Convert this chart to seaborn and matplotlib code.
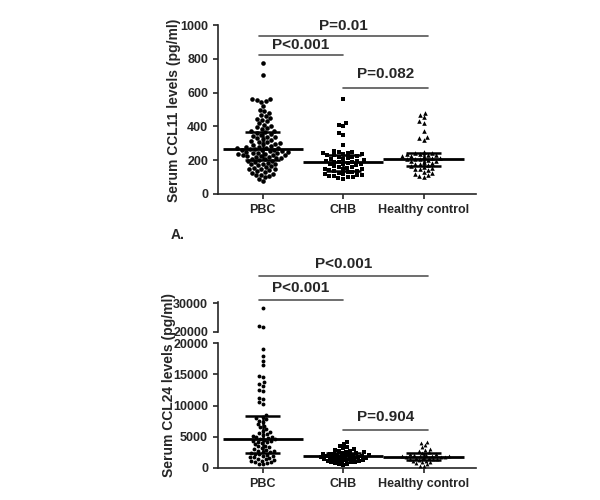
import numpy as np
import pandas as pd
import matplotlib
matplotlib.use("Agg")
import matplotlib.pyplot as plt
import seaborn as sns

sns.set_style("ticks")
plt.rcParams['font.family'] = ['Liberation Sans', 'DejaVu Sans']
plt.rcParams['font.weight'] = 'bold'

groups = ["PBC", "CHB", "Healthy control"]
markers = ["o", "s", "^"]

# CCL11 (pg/ml)
ccl11_pbc = [775, 705, 565, 560, 555, 550, 545, 520, 500, 490, 480, 470, 460, 450, 445, 440,
             430, 420, 410, 400, 395, 390, 385, 375, 370, 365, 360, 355, 350, 345, 340, 335,
             330, 325, 320, 315, 310, 305, 300, 298, 295, 290, 285, 280, 278, 275, 272, 270,
             268, 265, 262, 260, 258, 255, 252, 250, 248, 245, 242, 240, 238, 235, 232, 230,
             228, 225, 222, 220, 218, 215, 212, 210, 205, 200, 198, 195, 190, 185, 180, 178,
             175, 170, 165, 160, 155, 150, 148, 145, 140, 135, 130, 125, 120, 115, 110, 105,
             100, 90, 75]
ccl11_chb = [565, 420, 410, 400, 360, 350, 290, 255, 250, 248, 245, 240, 238, 235, 230, 228,
             225, 220, 218, 215, 210, 205, 200, 198, 195, 192, 190, 188, 185, 180, 178, 175,
             170, 165, 160, 158, 155, 150, 148, 145, 140, 138, 135, 130, 128, 125, 120, 118,
             115, 110, 108, 105, 100, 98, 95, 90]
ccl11_hc = [480, 470, 455, 430, 420, 375, 340, 330, 320, 250, 245, 240, 238, 235, 230, 228,
            225, 222, 220, 215, 212, 210, 208, 205, 200, 198, 195, 190, 185, 180, 175, 170,
            165, 160, 155, 150, 145, 140, 130, 125, 120, 110, 105, 100]

# CCL24 (pg/ml)
ccl24_pbc = [28500, 22000, 21800, 19000, 18000, 17200, 16500, 14800, 14500, 13800, 13500,
             13200, 12500, 12300, 11200, 11000, 10500, 10300, 8500, 8200, 8000, 7800, 7600,
             7400, 7000, 6800, 6500, 6300, 6000, 5800, 5600, 5500, 5300, 5100, 5000, 4900,
             4800, 4700, 4600, 4500, 4400, 4300, 4200, 4100, 4000, 3800, 3600, 3500, 3400,
             3200, 3000, 2900, 2800, 2700, 2600, 2500, 2400, 2300, 2200, 2100, 2000, 1900,
             1800, 1700, 1600, 1500, 1400, 1300, 1200, 1100, 1000, 900, 800, 700, 600]
ccl24_chb = [4200, 3900, 3600, 3400, 3200, 3000, 2900, 2800, 2700, 2600, 2500, 2450, 2400,
             2300, 2250, 2200, 2150, 2100, 2050, 2000, 1950, 1900, 1850, 1800, 1750, 1700,
             1650, 1600, 1550, 1500, 1450, 1400, 1350, 1300, 1250, 1200, 1150, 1100, 1000,
             950, 900, 800, 700, 600, 500]
ccl24_hc = [4200, 4000, 3700, 3300, 3100, 2900, 2700, 2500, 2400, 2300, 2200, 2100, 2050,
            2000, 1950, 1900, 1850, 1800, 1750, 1700, 1650, 1600, 1550, 1500, 1450, 1400,
            1300, 1200, 1100, 1000, 900, 800, 600, 400, 300]


def swarm(ax, series, size):
    for g, vals, m in zip(groups, series, markers):
        df = pd.DataFrame({"group": g, "val": vals})
        sns.swarmplot(data=df, x="group", y="val", order=groups, marker=m,
                      color="black", size=size, ax=ax, warn_thresh=1)


def bars(ax, series):
    for i, vals in enumerate(series):
        q1, med, q3 = np.percentile(vals, [25, 50, 75])
        ax.hlines(med, i - 0.5, i + 0.5, color="black", lw=2, zorder=5)
        ax.hlines([q1, q3], i - 0.22, i + 0.22, color="black", lw=1.8, zorder=5)
        ax.vlines(i, q1, q3, color="black", lw=1.8, zorder=5)


def sig(ax, x0, x1, y, dy, text):
    ax.plot([x0, x1], [y, y], color="#555555", lw=1.2, clip_on=False)
    ax.text((x0 + x1) / 2, y + dy, text, ha="center", va="bottom", fontsize=11,
            fontweight="bold", clip_on=False)


fig = plt.figure(figsize=(6, 5), dpi=100)
xl = (-0.56, 2.65)

# Panel A
ax1 = fig.add_axes([0.363, 0.612, 0.43, 0.338])
swarm(ax1, [ccl11_pbc, ccl11_chb, ccl11_hc], 3.3)
bars(ax1, [ccl11_pbc, ccl11_chb, ccl11_hc])
ax1.set_xlim(xl)
ax1.set_ylim(0, 1000)
ax1.set_yticks([0, 200, 400, 600, 800, 1000])
ax1.set_xlabel("")
ax1.set_ylabel("")
fig.text(0.29, 0.78, "Serum CCL11 levels (pg/ml)", rotation=90, ha="center", va="center",
         fontsize=10, fontweight="bold")
sig(ax1, -0.05, 2.05, 935, 15, "P=0.01")
sig(ax1, -0.05, 1.0, 825, 15, "P<0.001")
sig(ax1, 1.0, 2.05, 630, 40, "P=0.082")
sns.despine(ax=ax1)
fig.text(0.285, 0.522, "A.", fontsize=10, fontweight="bold")

# Panel B, broken axis
axb = fig.add_axes([0.363, 0.064, 0.43, 0.25])
axt = fig.add_axes([0.363, 0.336, 0.43, 0.06])
b_series = [ccl24_pbc, ccl24_chb, ccl24_hc]
swarm(axb, b_series, 2.8)
bars(axb, b_series)
for g, vals, m in zip(groups, b_series, markers):
    hi = [v for v in vals if v > 20000]
    if hi:
        df = pd.DataFrame({"group": g, "val": hi})
        sns.swarmplot(data=df, x="group", y="val", order=groups, marker=m,
                      color="black", size=2.8, ax=axt)
axb.set_xlim(xl)
axt.set_xlim(xl)
axb.set_ylim(0, 20000)
axt.set_ylim(20000, 30500)
axb.set_yticks([0, 5000, 10000, 15000, 20000])
axt.set_yticks([20000, 30000])
axb.set_xlabel("")
axb.set_ylabel("")
axt.set_xlabel("")
axt.set_ylabel("")
axt.set_xticks([])
sns.despine(ax=axb)
sns.despine(ax=axt, bottom=True)
sig(axt, -0.05, 2.05, 39700, 1500, "P<0.001")
sig(axt, -0.05, 1.0, 31300, 1500, "P<0.001")
sig(axb, 1.0, 2.05, 6080, 900, "P=0.904")
fig.text(0.282, 0.23, "Serum CCL24 levels (pg/ml)", rotation=90, ha="center", va="center",
         fontsize=10, fontweight="bold")

for ax in (ax1, axb, axt):
    ax.tick_params(labelsize=9, width=1.2)
    for s in ax.spines.values():
        s.set_linewidth(1.2)
    for lab in ax.get_xticklabels() + ax.get_yticklabels():
        lab.set_fontweight("bold")

fig.savefig("out.png", dpi=100)
